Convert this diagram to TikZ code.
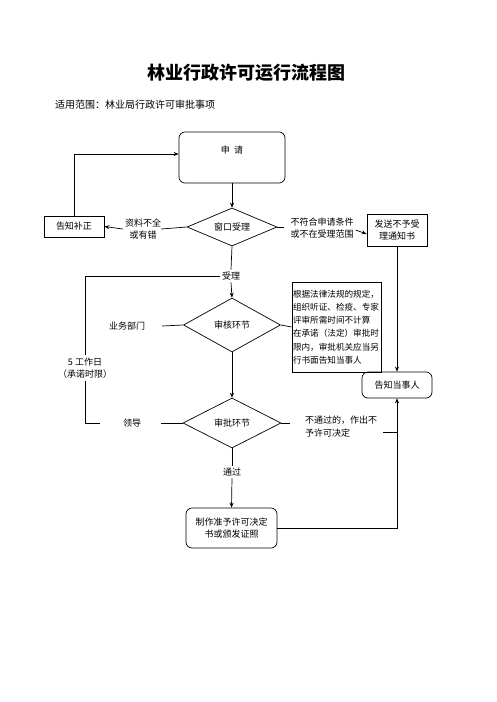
\documentclass[tikz,border=0pt]{standalone}
\usepackage{fontspec}
\setmainfont{Noto Sans CJK SC}
\usetikzlibrary{shapes.geometric,arrows.meta}

\tikzset{
  box/.style={draw,line width=0.7pt,inner sep=1pt,align=center,font=\fontsize{9}{12.5}\selectfont},
  roundbox/.style={box,rounded corners=6pt},
  check/.style={diamond,draw,line width=0.7pt,inner sep=0pt,aspect=2.2,font=\fontsize{9}{12}\selectfont},
  tag/.style={inner sep=2pt,align=center,font=\fontsize{9}{12.5}\selectfont},
  link/.style={line width=0.7pt},
  flow/.style={line width=0.7pt,-{Stealth[length=5pt,width=4pt]}}
}

\begin{document}
\begin{tikzpicture}[x=1pt,y=-1pt]
  \useasboundingbox (0,0) rectangle (496,702);

  % Heading
  \node[font=\fontsize{18}{22}\selectfont\bfseries] (title) at (246,73) {林业行政许可运行流程图};
  \node[anchor=west,inner sep=0pt,font=\fontsize{10}{12}\selectfont] (scope) at (55,105) {适用范围：林业局行政许可审批事项};

  % Main column
  \node[roundbox,minimum width=106,minimum height=51,
        label={[anchor=north,yshift=-11pt,font=\fontsize{9}{12}\selectfont]north:申\ \ 请}] (apply) at (232,157.5) {};
  \node[check,minimum width=90,minimum height=38] (window) at (232,227) {窗口受理};
  \node[tag] (accept) at (231,276) {受理};
  \node[check,minimum width=97,minimum height=54] (review) at (232,325) {审核环节};
  \node[check,minimum width=98,minimum height=50] (approve) at (232,423) {审批环节};
  \node[tag] (pass) at (232,472) {通过};
  \node[roundbox,minimum width=91,minimum height=40] (issue) at (231.5,528) {制作准予许可决定\\书或颁发证照};

  % Left side
  \node[box,minimum width=60,minimum height=21] (notify) at (74,226.5) {告知补正};
  \node[tag] (lack) at (143,229) {资料不全\\或有错};
  \node[tag] (dept) at (127,326) {业务部门};
  \node[tag] (days) at (85,368) {5 工作日\\（承诺时限）};
  \node[tag] (lead) at (132,423) {领导};
  \coordinate (leadend) at (100,423);

  % Right side
  \node[tag,align=left] (cond) at (322,228) {不符合申请条件\\或不在受理范围};
  \node[box,minimum width=60,minimum height=32] (reject) at (397,230) {发送不予受\\理通知书};
  \node[box,text width=87pt,minimum height=90,align=left,inner sep=1pt,
        font=\fontsize{8.6}{13.2}\selectfont] (note) at (336.5,327)
        {根据法律法规的规定，\\组织听证、检疫、专家\\评审所需时间不计算\\在承诺（法定）审批时\\限内，审批机关应当另\\行书面告知当事人};
  \node[roundbox,minimum width=70,minimum height=26] (inform) at (397,385) {告知当事人};
  \node[tag,align=left] (deny) at (341,426.5) {不通过的，作出不\\予许可决定};

  % Main flow
  \draw[flow] (apply.south) -- (window.north);
  \draw[link] (window.south) -- (accept.north);
  \draw[flow] (accept.south) -- (review.north);
  \draw[flow] (review.south) -- (approve.north);
  \draw[link] (approve.south) -- (pass.north);
  \draw[flow] (pass.south) -- (issue.north);

  % Incomplete material
  \draw[link] (window.west) -- ([xshift=-2pt]lack.east);
  \draw[flow] (lack.west) -- (notify.east);
  \draw[flow] (notify.north) |- ([yshift=3.5pt]apply.west);

  % Not accepted
  \draw[link] (window.east) -- ([xshift=7pt]window.east);
  \draw[flow] ([yshift=-2pt]cond.east) -- ([yshift=-4pt]reject.west);
  \draw[flow] (reject.south) -- (inform.north);

  % Time limit
  \draw[link] (accept.west) -| (days.north);
  \draw[link] (days.south) |- (leadend);
  \draw[link] ([xshift=15pt]dept.east) -- (review.west);
  \draw[link] (review.east) -- (note.west);
  \draw[link] ([xshift=18pt]lead.east) -- (approve.west);

  % Refusal and result
  \draw[link] (approve.east) -- ([xshift=9pt]approve.east);
  \draw[link] ([yshift=-6pt,xshift=4pt]deny.east) -- ([yshift=-6pt]deny.east -| inform.south);
  \draw[flow] (issue.east) -| (inform.south);
\end{tikzpicture}
\end{document}
